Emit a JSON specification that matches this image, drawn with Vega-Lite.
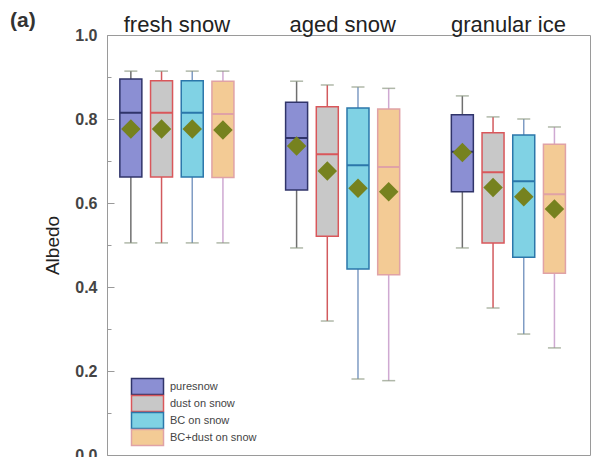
{
  "$schema": "https://vega.github.io/schema/vega-lite/v6.json",
  "width": 483,
  "height": 420,
  "autosize": {"type": "none"},
  "padding": {"left": 107, "top": 35, "right": 1, "bottom": 2},
  "background": "white",
  "title": {"text": "(a)", "anchor": "start", "frame": "group", "dx": -97, "dy": 22, "fontSize": 21, "fontWeight": "bold", "font": "Liberation Sans", "color": "#333"},
  "config": {
    "view": {"stroke": "#9a9a9a", "strokeWidth": 1},
    "font": "Liberation Sans"
  },
  "data": {
    "values": [
      {"group": "fresh snow", "cond": "puresnow", "lower": 0.505, "q1": 0.662, "median": 0.815, "q3": 0.895, "upper": 0.914, "mean": 0.776},
      {"group": "fresh snow", "cond": "dust on snow", "lower": 0.505, "q1": 0.662, "median": 0.815, "q3": 0.891, "upper": 0.914, "mean": 0.776},
      {"group": "fresh snow", "cond": "BC on snow", "lower": 0.505, "q1": 0.662, "median": 0.815, "q3": 0.891, "upper": 0.914, "mean": 0.776},
      {"group": "fresh snow", "cond": "BC+dust on snow", "lower": 0.505, "q1": 0.661, "median": 0.812, "q3": 0.89, "upper": 0.914, "mean": 0.774},
      {"group": "aged snow", "cond": "puresnow", "lower": 0.493, "q1": 0.631, "median": 0.755, "q3": 0.84, "upper": 0.89, "mean": 0.736},
      {"group": "aged snow", "cond": "dust on snow", "lower": 0.319, "q1": 0.521, "median": 0.716, "q3": 0.829, "upper": 0.881, "mean": 0.676},
      {"group": "aged snow", "cond": "BC on snow", "lower": 0.181, "q1": 0.443, "median": 0.69, "q3": 0.826, "upper": 0.876, "mean": 0.635},
      {"group": "aged snow", "cond": "BC+dust on snow", "lower": 0.177, "q1": 0.429, "median": 0.686, "q3": 0.824, "upper": 0.873, "mean": 0.627},
      {"group": "granular ice", "cond": "puresnow", "lower": 0.493, "q1": 0.627, "median": 0.722, "q3": 0.81, "upper": 0.855, "mean": 0.72},
      {"group": "granular ice", "cond": "dust on snow", "lower": 0.35, "q1": 0.505, "median": 0.673, "q3": 0.767, "upper": 0.805, "mean": 0.637},
      {"group": "granular ice", "cond": "BC on snow", "lower": 0.288, "q1": 0.471, "median": 0.652, "q3": 0.762, "upper": 0.8, "mean": 0.615},
      {"group": "granular ice", "cond": "BC+dust on snow", "lower": 0.255, "q1": 0.433, "median": 0.621, "q3": 0.74, "upper": 0.781, "mean": 0.586}
    ]
  },
  "encoding": {
    "x": {
      "field": "group", "type": "nominal",
      "sort": ["fresh snow", "aged snow", "granular ice"],
      "scale": {"paddingInner": 0.2, "paddingOuter": 0.057, "align": 0.19},
      "axis": {"orient": "top", "title": null, "ticks": false, "domain": false, "labelAngle": 0, "labelFontSize": 22, "labelColor": "#222", "labelPadding": -1}
    },
    "xOffset": {
      "field": "cond", "type": "nominal",
      "sort": ["puresnow", "dust on snow", "BC on snow", "BC+dust on snow"],
      "scale": {"paddingInner": 0, "paddingOuter": 0.16}
    }
  },
  "layer": [
    {
      "mark": {"type": "rule", "strokeWidth": 1.5},
      "encoding": {
        "y": {
          "field": "lower", "type": "quantitative",
          "scale": {"domain": [0, 1]},
          "axis": {
            "title": "Albedo", "titleFontSize": 19, "titleFontWeight": "normal", "titleColor": "#222", "titlePadding": 12,
            "values": [0, 0.1, 0.2, 0.3, 0.4, 0.5, 0.6, 0.7, 0.8, 0.9, 1.0],
            "labelExpr": "round(datum.value*10) % 2 === 0 ? format(datum.value, '.1f') : ''",
            "format": ".1f",
            "labelFontSize": 16, "labelColor": "#444", "labelFontWeight": "bold", "labelPadding": 17,
            "grid": false, "domainColor": "#9a9a9a", "tickColor": "#9a9a9a",
            "tickSize": {"condition": {"test": "round(datum.value*10) % 2 === 0", "value": -7}, "value": -4}
          }
        },
        "y2": {"field": "upper"},
        "color": {
          "field": "cond", "type": "nominal", "legend": null,
          "scale": {"domain": ["BC+dust on snow", "BC on snow", "dust on snow", "puresnow"], "range": ["#cfa9d2", "#7f9cc4", "#d25a5e", "#6f6f6f"]}
        }
      }
    },
    {
      "mark": {"type": "tick", "orient": "horizontal", "size": 13, "thickness": 1.5, "color": "#8f9a84"},
      "encoding": {"y": {"field": "upper", "type": "quantitative"}}
    },
    {
      "mark": {"type": "tick", "orient": "horizontal", "size": 13, "thickness": 1.5, "color": "#8f9a84"},
      "encoding": {"y": {"field": "lower", "type": "quantitative"}}
    },
    {
      "mark": {"type": "bar", "width": 22, "strokeWidth": 1.5},
      "encoding": {
        "y": {"field": "q1", "type": "quantitative"},
        "y2": {"field": "q3"},
        "fill": {
          "field": "cond", "type": "nominal",
          "scale": {"domain": ["puresnow", "dust on snow", "BC on snow", "BC+dust on snow"], "range": ["#8b8fd3", "#c8c8c8", "#80d2e4", "#f3cb95"]},
          "legend": {
            "title": null, "orient": "none", "legendX": 35, "legendY": 346, "padding": 0,
            "symbolType": "M-4,-2H4V2H-4Z", "symbolSize": 64, "symbolStrokeWidth": 1.5,
            "labelFontSize": 11, "labelColor": "#444", "labelOffset": 17, "rowPadding": -12
          }
        },
        "stroke": {
          "field": "cond", "type": "nominal",
          "scale": {"domain": ["puresnow", "dust on snow", "BC on snow", "BC+dust on snow"], "range": ["#30346a", "#d9575b", "#2b77aa", "#e0a2a6"]},
          "legend": {
            "title": null, "orient": "none", "legendX": 35, "legendY": 346, "padding": 0,
            "symbolType": "M-4,-2H4V2H-4Z", "symbolSize": 64, "symbolStrokeWidth": 1.5,
            "labelFontSize": 11, "labelColor": "#444", "labelOffset": 17, "rowPadding": -12
          }
        }
      }
    },
    {
      "mark": {"type": "bar", "width": 22, "strokeWidth": 2, "fill": null},
      "encoding": {
        "y": {"field": "median", "type": "quantitative"},
        "y2": {"field": "median"},
        "stroke": {"field": "cond", "type": "nominal"}
      }
    },
    {
      "mark": {"type": "point", "shape": "diamond", "filled": true, "size": 380, "color": "#76821f", "opacity": 1},
      "encoding": {"y": {"field": "mean", "type": "quantitative"}}
    }
  ]
}
